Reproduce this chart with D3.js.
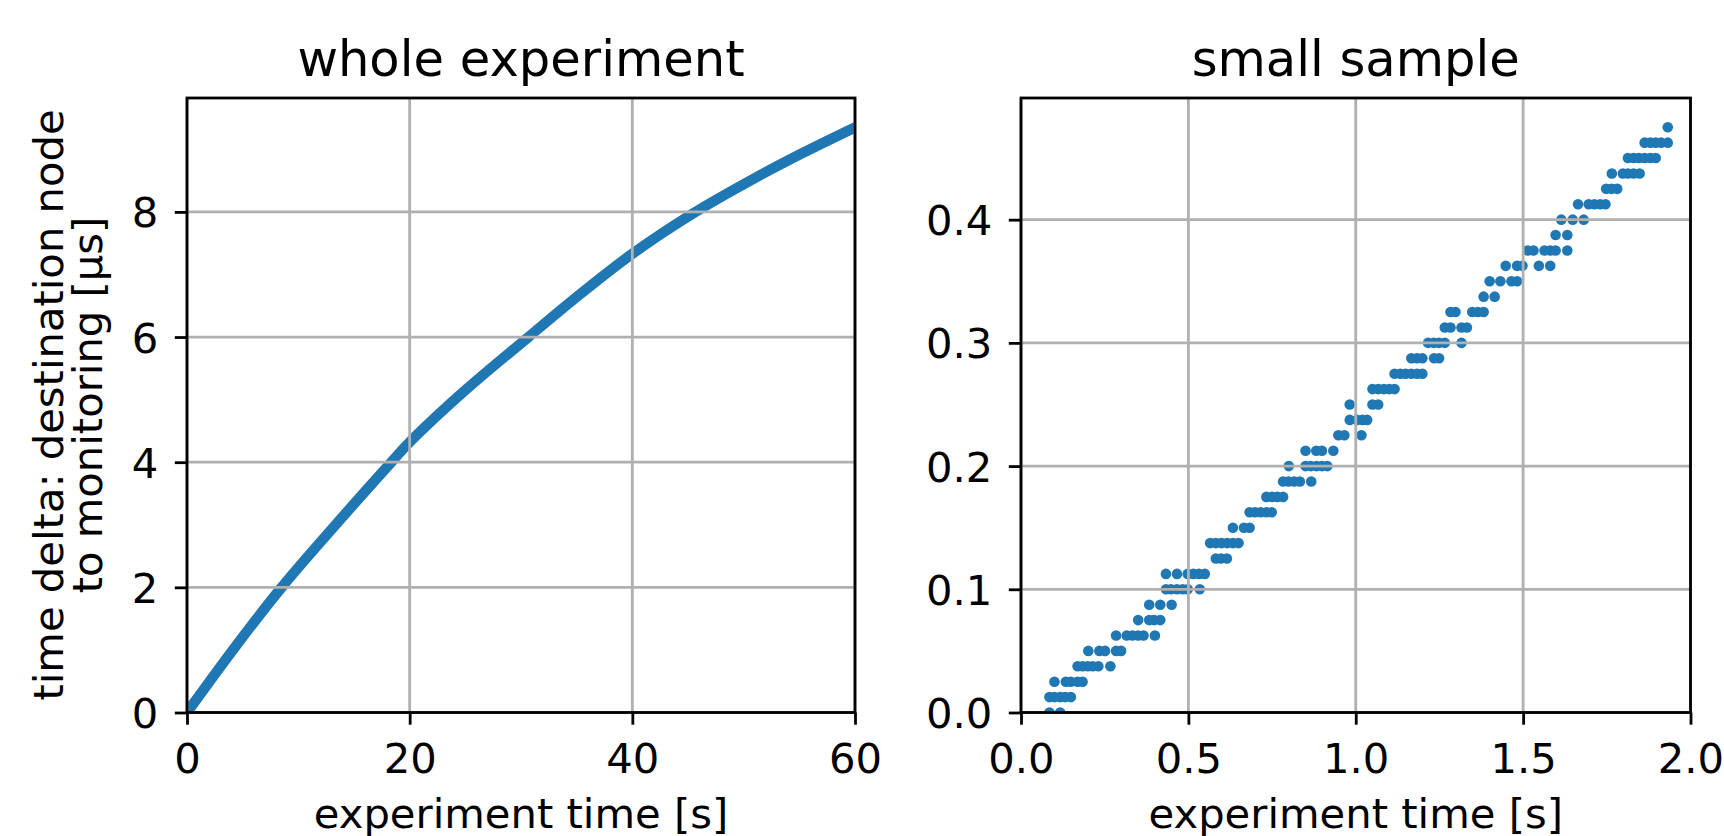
<!DOCTYPE html>
<html>
<head>
<meta charset="utf-8">
<script src="https://cdn.jsdelivr.net/npm/d3@7"></script>
<style>
  body { margin: 0; background: #fff; }
  svg { display: block; font-family: "DejaVu Sans", sans-serif; }
</style>
</head>
<body>
<div id="chart"></div>
<script>
// whole experiment: dense scatter
var wholeTime  = [0.2, 4.5, 8.5, 13.5, 18.35, 20, 25, 30.6, 35, 40, 45.5, 50.9, 55.4, 60];
var wholeDelta = [0.05, 1.09, 2.0, 3.03, 4.0, 4.32, 5.15, 5.99, 6.64, 7.33, 7.98, 8.53, 8.95, 9.35];

// small sample: quantised delta levels and the times of the dots on each level
var sampleDelta = [0.0000, 0.0125, 0.0250, 0.0375, 0.0500, 0.0625, 0.0750, 0.0875,
    0.1000, 0.1125, 0.1250, 0.1375, 0.1500, 0.1625, 0.1750, 0.1875,
    0.2000, 0.2125, 0.2250, 0.2375, 0.2500, 0.2625, 0.2750, 0.2875,
    0.3000, 0.3125, 0.3250, 0.3375, 0.3500, 0.3625, 0.3750, 0.3875,
    0.4000, 0.4125, 0.4250, 0.4375, 0.4500, 0.4625, 0.4750];
var sampleTimes = [
    [0.085, 0.117],
    [0.085, 0.100, 0.117, 0.132, 0.149],
    [0.100, 0.134, 0.149, 0.169, 0.184],
    [0.169, 0.184, 0.199, 0.214, 0.231, 0.267],
    [0.201, 0.234, 0.251, 0.284, 0.299],
    [0.284, 0.316, 0.333, 0.350, 0.366, 0.400],
    [0.350, 0.383, 0.398, 0.416],
    [0.383, 0.416, 0.450],
    [0.433, 0.448, 0.466, 0.483, 0.498, 0.534],
    [0.433, 0.466, 0.498, 0.515, 0.532, 0.549],
    [0.582, 0.597, 0.615],
    [0.565, 0.582, 0.599, 0.616, 0.633, 0.650],
    [0.633, 0.666, 0.683],
    [0.683, 0.699, 0.716, 0.733, 0.749],
    [0.733, 0.750, 0.766, 0.783],
    [0.783, 0.799, 0.816, 0.833, 0.867],
    [0.800, 0.850, 0.866, 0.883, 0.899, 0.915],
    [0.850, 0.882, 0.899, 0.933],
    [0.948, 0.966, 1.017],
    [0.982, 1.004, 1.020, 1.034],
    [0.982, 1.050, 1.067],
    [1.050, 1.067, 1.084, 1.100, 1.116],
    [1.116, 1.133, 1.149, 1.166, 1.183, 1.199],
    [1.166, 1.183, 1.199, 1.234, 1.249],
    [1.216, 1.233, 1.249, 1.266, 1.316],
    [1.266, 1.283, 1.316, 1.332],
    [1.283, 1.298, 1.348, 1.365, 1.382],
    [1.382, 1.415],
    [1.400, 1.432, 1.465, 1.482],
    [1.448, 1.482, 1.498, 1.547, 1.581],
    [1.514, 1.531, 1.564, 1.581, 1.597, 1.632],
    [1.597, 1.632],
    [1.614, 1.648, 1.681],
    [1.664, 1.696, 1.713, 1.730, 1.746],
    [1.748, 1.764, 1.781],
    [1.765, 1.798, 1.813, 1.830, 1.848],
    [1.813, 1.830, 1.846, 1.863, 1.880, 1.896],
    [1.863, 1.880, 1.896, 1.912, 1.932],
    [1.932]
];

var wholeXTicks = [0, 20, 40, 60];
var wholeYTicks = [0, 2, 4, 6, 8];
var sampleXTicks = [0, 0.5, 1.0, 1.5, 2.0];
var sampleYTicks = [0, 0.1, 0.2, 0.3, 0.4];

var width = 1724, height = 836;
var blue = "#1f77b4";
var tickLen = 12.2;

var svg = d3.select("#chart").append("svg")
    .attr("width", width)
    .attr("height", height);

function drawPanel(opt) {
    var x = d3.scaleLinear().domain(opt.xDomain).range([opt.left, opt.right]);
    var y = d3.scaleLinear().domain(opt.yDomain).range([opt.bottom, opt.top]);

    var clipId = "clip-" + opt.name;
    svg.append("clipPath").attr("id", clipId)
        .append("rect")
        .attr("x", opt.left).attr("y", opt.top)
        .attr("width", opt.right - opt.left)
        .attr("height", opt.bottom - opt.top);

    var plot = svg.append("g").attr("clip-path", "url(#" + clipId + ")");
    opt.drawData(plot, x, y);

    // grid sits on top of the data, like matplotlib's default
    var grid = svg.append("g")
        .attr("stroke", "#b0b0b0")
        .attr("stroke-width", 2.8);
    grid.selectAll(".gx").data(opt.xTicks).enter().append("line")
        .attr("x1", function (d) { return x(d); })
        .attr("x2", function (d) { return x(d); })
        .attr("y1", opt.top).attr("y2", opt.bottom);
    grid.selectAll(".gy").data(opt.yTicks).enter().append("line")
        .attr("y1", function (d) { return y(d); })
        .attr("y2", function (d) { return y(d); })
        .attr("x1", opt.left).attr("x2", opt.right);

    var xAxis = svg.append("g")
        .attr("transform", "translate(0," + opt.bottom + ")")
        .call(d3.axisBottom(x).tickValues(opt.xTicks).tickFormat(opt.xFormat)
            .tickSizeInner(tickLen).tickSizeOuter(0).tickPadding(18.7));
    var yAxis = svg.append("g")
        .attr("transform", "translate(" + opt.left + ",0)")
        .call(d3.axisLeft(y).tickValues(opt.yTicks).tickFormat(opt.yFormat)
            .tickSizeInner(tickLen).tickSizeOuter(0).tickPadding(16.5));

    [xAxis, yAxis].forEach(function (ax) {
        ax.select(".domain").remove();
        ax.selectAll(".tick line").attr("stroke", "#000").attr("stroke-width", 2.8);
        ax.selectAll(".tick text")
            .attr("fill", "#000")
            .style("font-family", "DejaVu Sans")
            .style("font-size", "41.7px");
    });
    yAxis.selectAll(".tick text").attr("dy", "0.36em");

    svg.append("rect")
        .attr("x", opt.left).attr("y", opt.top)
        .attr("width", opt.right - opt.left)
        .attr("height", opt.bottom - opt.top)
        .attr("fill", "none")
        .attr("stroke", "#000")
        .attr("stroke-width", 2.8);

    svg.append("text")
        .attr("x", (opt.left + opt.right) / 2)
        .attr("y", opt.top - 22)
        .attr("text-anchor", "middle")
        .style("font-size", "49.6px")
        .text(opt.title);

    svg.append("text")
        .attr("x", (opt.left + opt.right) / 2)
        .attr("y", 828)
        .attr("text-anchor", "middle")
        .style("font-size", "41.7px")
        .text("experiment time [s]");
}

drawPanel({
    name: "whole",
    title: "whole experiment",
    left: 187, right: 855, top: 98, bottom: 712.5,
    xDomain: [0, 60], yDomain: [0, 9.82],
    xTicks: wholeXTicks, yTicks: wholeYTicks,
    xFormat: d3.format("d"), yFormat: d3.format("d"),
    drawData: function (g, x, y) {
        var line = d3.line()
            .x(function (d, i) { return x(wholeTime[i]); })
            .y(function (d) { return y(d); })
            .curve(d3.curveCatmullRom.alpha(0.5));
        g.append("path")
            .attr("d", line(wholeDelta))
            .attr("fill", "none")
            .attr("stroke", blue)
            .attr("stroke-width", 10.4)
            .attr("stroke-linecap", "round");
    }
});

drawPanel({
    name: "sample",
    title: "small sample",
    left: 1021, right: 1690.5, top: 98, bottom: 712.5,
    xDomain: [0, 2], yDomain: [0, 0.49875],
    xTicks: sampleXTicks, yTicks: sampleYTicks,
    xFormat: d3.format(".1f"), yFormat: d3.format(".1f"),
    drawData: function (g, x, y) {
        var points = [];
        sampleTimes.forEach(function (times, i) {
            times.forEach(function (t) {
                points.push({ t: t, v: sampleDelta[i] });
            });
        });
        g.selectAll("circle").data(points).enter().append("circle")
            .attr("cx", function (d) { return x(d.t); })
            .attr("cy", function (d) { return y(d.v); })
            .attr("r", 5.3)
            .attr("fill", blue);
    }
});

// two-line y label on the left panel
var ylab = svg.append("text")
    .attr("transform", "translate(0,405) rotate(-90)")
    .attr("text-anchor", "middle")
    .style("font-size", "41.7px");
ylab.append("tspan").attr("x", 0).attr("y", 63).text("time delta: destination node");
ylab.append("tspan").attr("x", 0).attr("y", 101.5).text("to monitoring [µs]");
</script>
</body>
</html>
